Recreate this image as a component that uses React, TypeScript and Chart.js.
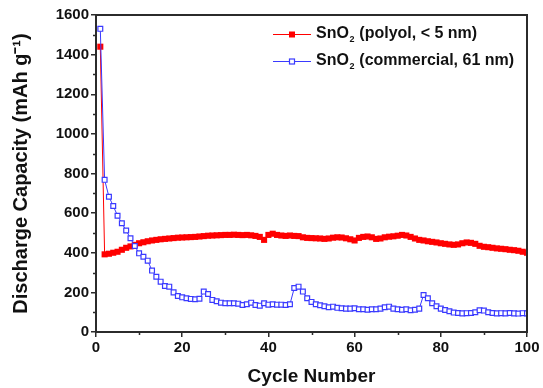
import React, { useEffect, useRef } from "react";
import { Chart, registerables } from "chart.js";
Chart.register(...registerables);

const cycles = [
  1, 2, 3, 4, 5, 6, 7, 8, 9, 10, 11, 12, 13, 14, 15, 16, 17, 18, 19, 20,
  21, 22, 23, 24, 25, 26, 27, 28, 29, 30, 31, 32, 33, 34, 35, 36, 37, 38, 39, 40,
  41, 42, 43, 44, 45, 46, 47, 48, 49, 50, 51, 52, 53, 54, 55, 56, 57, 58, 59, 60,
  61, 62, 63, 64, 65, 66, 67, 68, 69, 70, 71, 72, 73, 74, 75, 76, 77, 78, 79, 80,
  81, 82, 83, 84, 85, 86, 87, 88, 89, 90, 91, 92, 93, 94, 95, 96, 97, 98, 99, 100,
];

const polyol = [
  1440, 392, 395, 400, 405, 415, 425, 432, 440, 448,
  453, 458, 462, 465, 468, 470, 472, 474, 476, 477,
  478, 479, 480, 482, 484, 486, 487, 488, 489, 490,
  490, 491, 490, 489, 490, 488, 485, 480, 465, 490,
  496, 490, 487, 485, 487, 485, 484, 478, 475, 474,
  473, 472, 470, 472, 476, 478, 477, 473, 468, 462,
  475, 480, 482, 478, 470, 472, 478, 481, 483, 486,
  490, 487, 480, 472, 465, 462, 458, 455, 452, 448,
  445, 442, 440, 442, 448, 452, 450, 445, 435, 430,
  428, 425, 422, 420, 418, 415, 413, 410, 405, 400,
];

const commercial = [
  1530, 768, 683, 636, 587, 549, 512, 473, 434, 397,
  380, 360, 310, 279, 254, 232, 229, 200, 182, 175,
  170, 167, 165, 168, 204, 192, 162, 155, 148, 145,
  145, 145, 143, 136, 140, 148, 136, 133, 145, 138,
  140, 138, 138, 136, 140, 222, 229, 204, 170, 152,
  140, 135, 130, 125, 128, 122, 120, 118, 118, 120,
  115, 115, 112, 115, 115, 118, 125, 128, 118, 115,
  112, 115, 110, 112, 118, 187, 170, 145, 130, 118,
  111, 105, 98, 96, 94, 95, 96, 100, 110, 108,
  100, 96, 94, 95, 94, 96, 94, 93, 95, 94,
];

const xTicks = [0, 20, 40, 60, 80, 100];
const xMinorTicks = [10, 30, 50, 70, 90];
const yTicks = [0, 200, 400, 600, 800, 1000, 1200, 1400, 1600];
const yMinorTicks = [100, 300, 500, 700, 900, 1100, 1300, 1500];

const legendParts = [
  { base: "SnO", sub: "2", rest: " (polyol, < 5 nm)" },
  { base: "SnO", sub: "2", rest: " (commercial, 61 nm)" },
];

const AXIS = "#2b2b2b";
const FONT = "'Liberation Sans', Arial, Helvetica, sans-serif";
const RED = "#ff0000";
const BLUE = "#3a3aff";

const framePlugin = {
  id: "frame",
  afterDraw(chart: any) {
    const { ctx, chartArea, scales } = chart;
    const { left, right, top, bottom } = chartArea;
    const x = scales.x;
    const y = scales.y;
    ctx.save();
    ctx.strokeStyle = AXIS;
    ctx.lineWidth = 2;
    ctx.strokeRect(left, top, right - left, bottom - top);
    ctx.lineWidth = 1.5;
    ctx.beginPath();
    for (const v of xMinorTicks) {
      const px = Math.round(x.getPixelForValue(v)) + 0.5;
      ctx.moveTo(px, bottom);
      ctx.lineTo(px, bottom + 3);
    }
    for (const v of yMinorTicks) {
      const py = Math.round(y.getPixelForValue(v)) + 0.5;
      ctx.moveTo(left, py);
      ctx.lineTo(left - 3, py);
    }
    ctx.stroke();

    // legend
    const rows = [34, 61];
    const lineX0 = 273;
    const lineX1 = 311;
    const markX = 292;
    const textX = 316;
    chart.data.datasets.forEach((ds: any, i: number) => {
      const yy = rows[i];
      ctx.strokeStyle = ds.borderColor;
      ctx.lineWidth = 1;
      ctx.beginPath();
      ctx.moveTo(lineX0, yy + 0.5);
      ctx.lineTo(lineX1, yy + 0.5);
      ctx.stroke();
      const s = 5;
      if (i === 0) {
        ctx.fillStyle = ds.pointBackgroundColor;
        ctx.fillRect(markX - s / 2 - 0.5, yy - s / 2, s + 1, s + 1);
      } else {
        ctx.fillStyle = "#ffffff";
        ctx.fillRect(markX - s / 2, yy - s / 2, s, s);
        ctx.strokeStyle = ds.pointBorderColor;
        ctx.lineWidth = 1.2;
        ctx.strokeRect(markX - s / 2, yy - s / 2 + 0.5, s, s);
      }
      const p = legendParts[i];
      ctx.fillStyle = "#111111";
      ctx.textBaseline = "middle";
      ctx.font = `bold 16px ${FONT}`;
      let tx = textX;
      ctx.fillText(p.base, tx, yy);
      tx += ctx.measureText(p.base).width;
      ctx.font = `bold 9px ${FONT}`;
      ctx.fillText(p.sub, tx + 0.5, yy + 6);
      tx += ctx.measureText(p.sub).width + 1;
      ctx.font = `bold 16px ${FONT}`;
      ctx.fillText(p.rest, tx, yy);
    });
    ctx.restore();
  },
};

export default function App() {
  const ref = useRef<HTMLCanvasElement | null>(null);

  useEffect(() => {
    const canvas = ref.current;
    if (!canvas) return;
    const chart = new Chart(canvas, {
      type: "line",
      data: {
        datasets: [
          {
            label: "SnO2 (polyol, < 5 nm)",
            data: cycles.map((c, i) => ({ x: c, y: polyol[i] })),
            borderColor: RED,
            borderWidth: 1,
            pointStyle: "rect",
            pointRadius: 4.3,
            pointBackgroundColor: RED,
            pointBorderColor: RED,
            pointBorderWidth: 0,
            order: 1,
          },
          {
            label: "SnO2 (commercial, 61 nm)",
            data: cycles.map((c, i) => ({ x: c, y: commercial[i] })),
            borderColor: BLUE,
            borderWidth: 1,
            pointStyle: "rect",
            pointRadius: 3.4,
            pointBackgroundColor: "#ffffff",
            pointBorderColor: BLUE,
            pointBorderWidth: 1.2,
            order: 0,
          },
        ],
      },
      options: {
        animation: false,
        responsive: false,
        events: [],
        layout: { padding: { top: 15, right: 16, left: 0, bottom: 0 } },
        plugins: {
          legend: { display: false },
          tooltip: { enabled: false },
        },
        scales: {
          x: {
            type: "linear",
            min: 0,
            max: 100,
            afterBuildTicks: (s: any) => {
              s.ticks = xTicks.map((v) => ({ value: v }));
            },
            afterFit: (s: any) => {
              s.height = 56;
            },
            border: { display: false },
            grid: {
              drawOnChartArea: false,
              drawTicks: true,
              tickLength: 5,
              color: AXIS,
              lineWidth: 1.5,
            },
            ticks: {
              color: "#111111",
              font: { family: FONT, size: 15, weight: "bold" },
              padding: 2,
              maxRotation: 0,
              callback: (v: any) => String(v),
            },
            title: {
              display: true,
              text: "Cycle Number",
              color: "#111111",
              font: { family: FONT, size: 19, weight: "bold" },
              padding: { top: 0, bottom: 0 },
            },
          },
          y: {
            type: "linear",
            min: 0,
            max: 1600,
            afterBuildTicks: (s: any) => {
              s.ticks = yTicks.map((v) => ({ value: v }));
            },
            afterFit: (s: any) => {
              s.width = 96;
            },
            border: { display: false },
            grid: {
              drawOnChartArea: false,
              drawTicks: true,
              tickLength: 5,
              color: AXIS,
              lineWidth: 1.5,
            },
            ticks: {
              color: "#111111",
              font: { family: FONT, size: 15, weight: "bold" },
              padding: 2,
              callback: (v: any) => String(v),
            },
            title: {
              display: true,
              text: "Discharge Capacity (mAh g\u207B\u00B9)",
              color: "#111111",
              font: { family: FONT, size: 20, weight: "bold" },
              padding: { top: 9, bottom: 0 },
            },
          },
        },
      },
      plugins: [framePlugin],
    } as any);
    return () => chart.destroy();
  }, []);

  return (
    <div style={{ position: "absolute", left: 0, top: 0, width: 543, height: 388, background: "#ffffff" }}>
      <canvas ref={ref} width={543} height={388} style={{ display: "block" }} />
    </div>
  );
}
